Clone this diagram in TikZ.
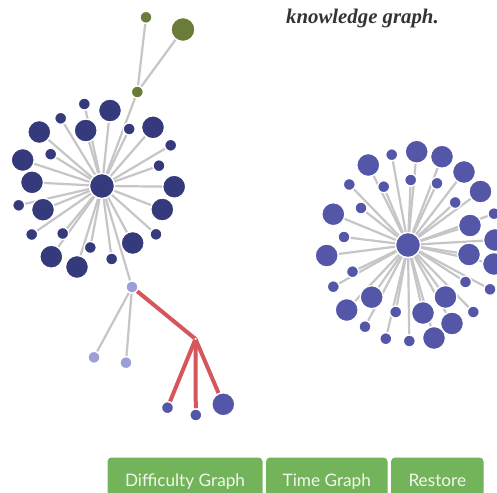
\documentclass[tikz,border=0pt]{standalone}
\usepackage{fontspec}
\newfontfamily\latofont{Lato}
\newfontfamily\serifbi{Liberation Serif}
\pgfdeclarelayer{bg}
\pgfsetlayers{bg,main}
\definecolor{navy}{HTML}{343A7B}
\definecolor{violet}{HTML}{5457A8}
\definecolor{lightv}{HTML}{9C9FD5}
\definecolor{olive}{HTML}{6A7D38}
\definecolor{edgegray}{HTML}{C6C6C6}
\definecolor{redline}{HTML}{D6575B}
\definecolor{btngreen}{HTML}{73B45A}
\definecolor{btntext}{HTML}{F2F7EE}
\tikzset{
  dot/.style={circle, draw=white, line width=1.3pt, inner sep=0pt},
  bigdot/.style={dot, minimum size=23pt},
  smalldot/.style={dot, minimum size=12pt},
  hubdot/.style={dot, minimum size=25pt},
  edge/.style={draw=edgegray, line width=2.2pt},
  rededge/.style={draw=redline, line width=4pt},
  btn/.style={fill=btngreen, rounded corners=4pt, inner xsep=0pt, inner ysep=0pt,
    text height=29pt, text depth=13.5pt, anchor=base, text=btntext,
    font=\latofont\fontsize{17.2}{20}\selectfont}
}
\begin{document}
\begin{tikzpicture}[x=1pt,y=-1pt]
\useasboundingbox (0,0) rectangle (497,492);
\clip (0,0) rectangle (497,492);
\begin{pgfonlayer}{bg}
\fill[white] (0,0) rectangle (497,492);
\end{pgfonlayer}

% title
\node[anchor=base west, inner sep=0pt, text=black!80, font=\serifbi\bfseries\itshape\fontsize{20.8}{24}\selectfont] (title) at (286,23.3) {knowledge graph.};

% left cluster
\node[hubdot, fill=navy] (c1) at (102,186) {};
\foreach \x/\y [count=\i] in {110/110.5, 39.3/132, 85.7/130.5, 153/127.3, 22.7/160, 32/182.3, 174.2/186.7, 43/209.7, 162.3/209.5, 132.7/243, 51.3/256.7, 77/267}{
  \node[bigdot, fill=navy] (lb\i) at (\x,\y) {};
  \begin{pgfonlayer}{bg}\draw[edge] (c1) -- (lb\i);\end{pgfonlayer}
}
\foreach \x/\y [count=\i] in {84.3/104, 60.7/118.3, 129.2/129, 170.7/145.3, 50.7/154.2, 159/165.7, 18.7/205.3, 31.7/234.5, 62.7/233.5, 156/234.3, 90.3/247.5, 111.7/259}{
  \node[smalldot, fill=navy] (ls\i) at (\x,\y) {};
  \begin{pgfonlayer}{bg}\draw[edge] (c1) -- (ls\i);\end{pgfonlayer}
}

% green branch
\node[smalldot, fill=olive] (g1) at (137.3,92) {};
\node[smalldot, fill=olive] (g2) at (146,17.3) {};
\node[bigdot, fill=olive, minimum size=24pt] (g3) at (183,29.5) {};
\begin{pgfonlayer}{bg}
\draw[edge] (c1) -- (g1);
\draw[edge] (g1) -- (g2);
\draw[edge] (g1) -- (g3);
\end{pgfonlayer}

% light branch
\node[smalldot, fill=lightv] (l1) at (132,287) {};
\node[smalldot, fill=lightv] (l2) at (94,357.3) {};
\node[smalldot, fill=lightv] (l3) at (126,362.7) {};
\coordinate (j) at (195.5,339);
\node[smalldot, fill=violet] (b1) at (167.5,407.7) {};
\node[smalldot, fill=violet] (b2) at (195.8,415) {};
\node[bigdot, fill=violet] (b3) at (223.3,404.3) {};
\begin{pgfonlayer}{bg}
\draw[edge] (c1) -- (l1);
\draw[edge] (l1) -- (l2);
\draw[edge] (l1) -- (l3);
\draw[rededge] (l1) -- (j);
\draw[rededge] (j) -- (b1);
\draw[rededge] (j) -- (b2);
\draw[rededge] (j) -- (b3);
\end{pgfonlayer}
\fill[white] (j) circle (1.2pt);

% right cluster
\node[hubdot, fill=violet] (c2) at (408,245) {};
\foreach \x/\y [count=\i] in {416.7/151.7, 442/156.7, 368.3/165, 464/172, 480.5/191.5, 333.3/214.2, 470/225.5, 495/240, 469/254.5, 326.7/255.5, 494/264, 371.7/297.2, 445.5/297, 346.7/310, 423/313, 452/323.5, 434/338}{
  \node[bigdot, fill=violet] (rb\i) at (\x,\y) {};
  \begin{pgfonlayer}{bg}\draw[edge] (c2) -- (rb\i);\end{pgfonlayer}
}
\foreach \x/\y [count=\i] in {391.7/154.7, 349.3/184.5, 383.7/186.7, 410.7/180, 437/183.3, 455.2/202.5, 361/208, 494/213.7, 344/237, 352.5/271.7, 465.5/282, 333.3/286.7, 490/289.3, 395.7/312, 473.3/312, 365/326.7, 385.8/338.7, 409.3/341}{
  \node[smalldot, fill=violet] (rs\i) at (\x,\y) {};
  \begin{pgfonlayer}{bg}\draw[edge] (c2) -- (rs\i);\end{pgfonlayer}
}

% buttons
\node[btn, minimum width=155pt] (btn1) at (185,486.5) {Difficulty Graph};
\node[btn, minimum width=121.5pt] (btn2) at (326.8,486.5) {Time Graph};
\node[btn, minimum width=92.5pt] (btn3) at (437.3,486.5) {Restore};
\end{tikzpicture}
\end{document}
